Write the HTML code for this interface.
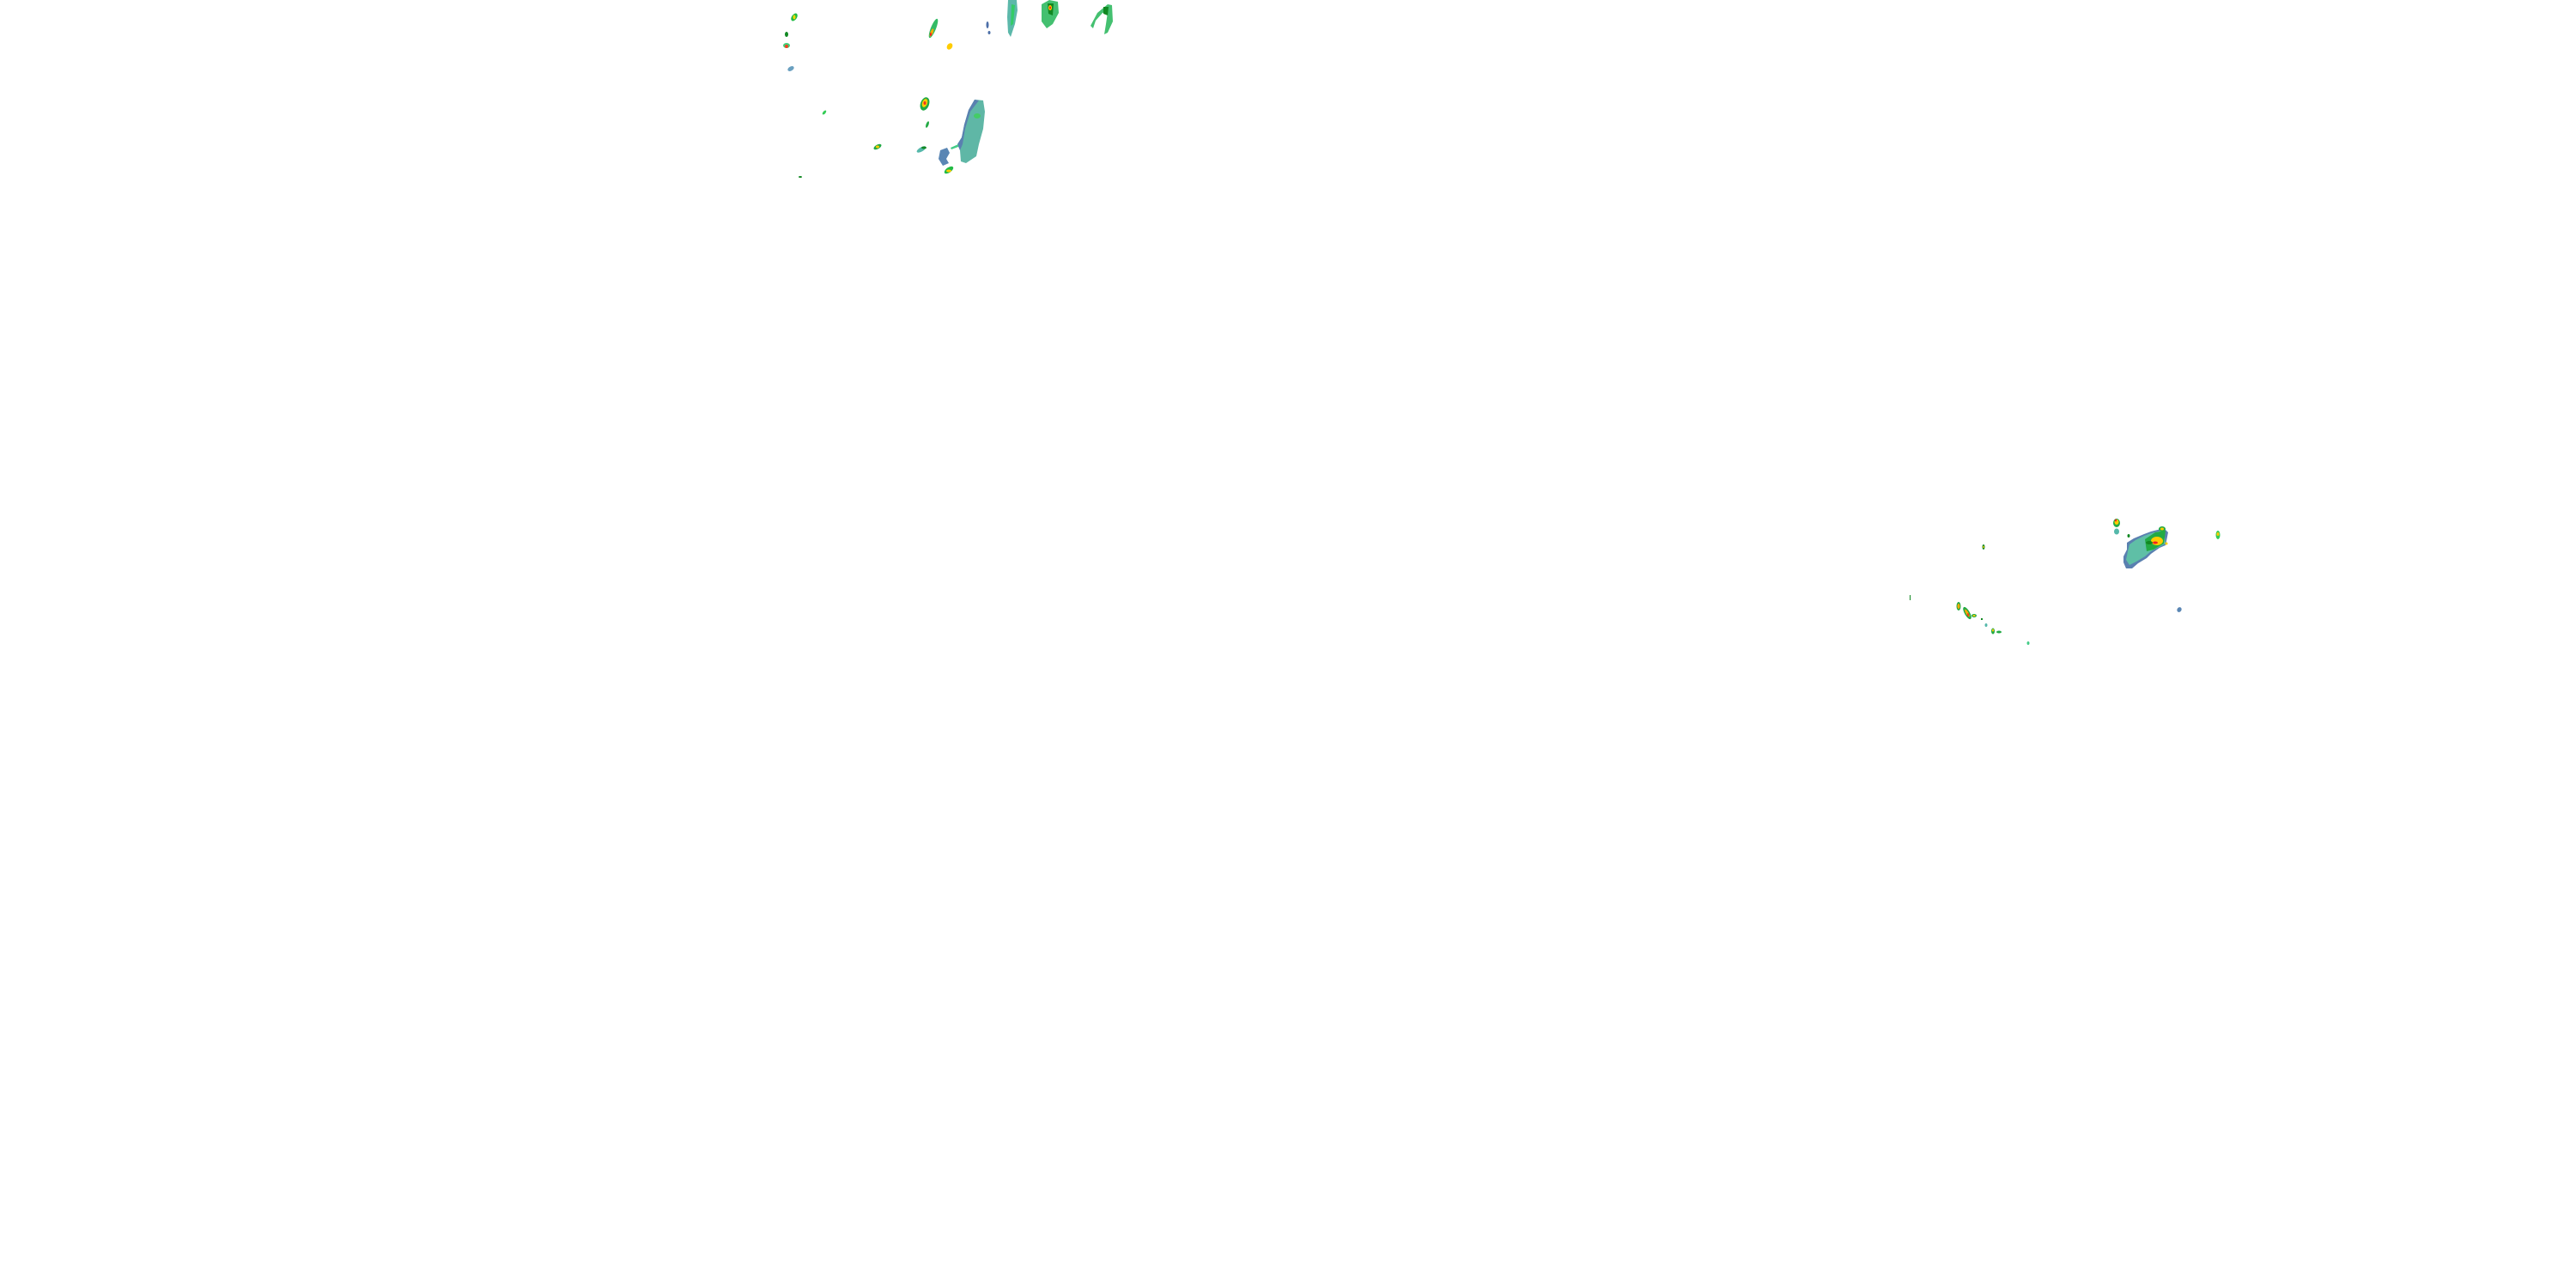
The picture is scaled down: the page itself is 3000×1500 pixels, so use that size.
<!DOCTYPE html>
<html><head><meta charset="utf-8"><style>html,body{margin:0;padding:0;background:#fff}svg{display:block}</style></head>
<body>
<svg width="3000" height="1500" viewBox="0 0 3000 1500" xmlns="http://www.w3.org/2000/svg">
<rect width="3000" height="1500" fill="#fff"/>
<!-- upper left cluster -->
<g>
<ellipse cx="925" cy="20" rx="3" ry="5" transform="rotate(35 925 20)" fill="#22bb44"/><ellipse cx="925" cy="20" rx="1.5" ry="2.5" fill="#ffd700"/>
<ellipse cx="916" cy="40" rx="2" ry="3" fill="#118822"/>
<ellipse cx="916" cy="53" rx="4" ry="3" fill="#44cc77"/><ellipse cx="916" cy="54" rx="2" ry="2" fill="#ee4422"/>
<ellipse cx="921" cy="80" rx="4" ry="2.5" transform="rotate(-30 921 80)" fill="#6aa0c0"/>
<ellipse cx="1087" cy="33" rx="3" ry="12" transform="rotate(22 1087 33)" fill="#33bb66"/><ellipse cx="1085" cy="38" rx="1.5" ry="5" transform="rotate(22 1085 38)" fill="#ffaa00"/><ellipse cx="1084" cy="40" rx="1" ry="2" fill="#ee2222"/>
<ellipse cx="1106" cy="54" rx="3" ry="4" transform="rotate(35 1106 54)" fill="#ffcc00"/>
<ellipse cx="1150" cy="29" rx="1.5" ry="4" fill="#4d6fa8"/><ellipse cx="1152" cy="38" rx="1.5" ry="2" fill="#4d6fa8"/>
<path d="M1174 0 L1184 0 L1185 12 L1182 28 L1177 43 L1174 38 L1173 20 Z" fill="#5cb8aa"/><path d="M1178 5 L1182 6 L1180 28 L1177 30 Z" fill="#33cc66"/>
<path d="M1213 5 L1222 0 L1232 2 L1233 15 L1226 28 L1219 33 L1213 25 Z" fill="#44c070"/><path d="M1220 4 L1227 4 L1226 18 L1221 16 Z" fill="#118822"/><ellipse cx="1223" cy="9" rx="2" ry="3" fill="#ffcc00"/><ellipse cx="1223" cy="9" rx="1" ry="1.5" fill="#ee2222"/>
<path d="M1270 30 L1278 15 L1290 5 L1295 6 L1296 25 L1290 38 L1286 40 L1288 28 L1290 14 L1284 15 L1276 24 L1273 33 Z" fill="#44c070"/><path d="M1285 8 L1291 8 L1290 18 L1285 16 Z" fill="#118822"/>
<!-- big stratiform -->
<path d="M1135 116 L1145 117 L1147 130 L1145 150 L1140 168 L1137 182 L1125 190 L1119 188 L1118 175 L1115 168 L1120 160 L1123 145 L1128 128 Z" fill="#5fb7a6"/>
<path d="M1135 116 L1140 117 L1130 130 L1124 150 L1121 168 L1118 175 L1115 168 L1120 160 L1123 145 L1128 128 Z" fill="#5a80b0"/>
<ellipse cx="1138" cy="135" rx="4" ry="3" fill="#44cc66"/>
<path d="M1095 175 L1103 172 L1106 178 L1102 185 L1105 190 L1098 193 L1093 185 Z" fill="#5a86b4"/>
<path d="M1107 172 L1116 168 L1116 171 L1108 174 Z" fill="#44cc88"/>
<ellipse cx="1077" cy="121" rx="5" ry="8" transform="rotate(20 1077 121)" fill="#22aa44"/><ellipse cx="1077" cy="120" rx="3" ry="5" transform="rotate(20 1077 120)" fill="#ffcc00"/><ellipse cx="1077" cy="120" rx="1.5" ry="2" fill="#ee3322"/>
<ellipse cx="1080" cy="145" rx="1.5" ry="4" transform="rotate(20 1080 145)" fill="#22aa44"/>
<ellipse cx="960" cy="131" rx="1.5" ry="3" transform="rotate(40 960 131)" fill="#33cc55"/>
<ellipse cx="1022" cy="171" rx="5" ry="2.5" transform="rotate(-30 1022 171)" fill="#22aa44"/><ellipse cx="1022" cy="171" rx="2" ry="1.5" fill="#ffcc00"/>
<ellipse cx="1073" cy="174" rx="6" ry="2.5" transform="rotate(-30 1073 174)" fill="#55b8aa"/><ellipse cx="1076" cy="172" rx="3" ry="1.5" fill="#118822"/>
<ellipse cx="1105" cy="198" rx="6" ry="3" transform="rotate(-35 1105 198)" fill="#22bb44"/><ellipse cx="1105" cy="199" rx="3" ry="1.5" fill="#ffcc00"/>
<ellipse cx="932" cy="206" rx="2" ry="1" fill="#118822"/>
</g>
<!-- right cluster -->
<g>
<ellipse cx="2465" cy="609" rx="4" ry="5" fill="#22aa44"/><ellipse cx="2465" cy="608" rx="2.5" ry="3" fill="#ffcc00"/><ellipse cx="2464" cy="606" rx="1" ry="1.5" fill="#ee2222"/>
<ellipse cx="2465" cy="619" rx="3" ry="3.5" fill="#55b8aa"/>
<ellipse cx="2479" cy="624" rx="1.5" ry="2" fill="#118822"/>
<path d="M2497 622 L2505 619 L2513 617 L2520 615 L2525 620 L2522 635 L2515 638 L2505 645 L2500 650 L2490 656 L2483 662 L2476 662 L2473 655 L2473 648 L2477 640 L2477 632 L2485 627 Z" fill="#5a80b0"/>
<path d="M2497 624 L2505 621 L2513 619 L2520 617 L2522 633 L2505 642 L2498 648 L2488 654 L2480 658 L2476 652 L2478 642 L2480 634 L2487 629 Z" fill="#5fbfa6"/>
<path d="M2498 628 L2510 620 L2522 618 L2520 633 L2508 640 L2500 642 Z" fill="#22aa44"/>
<ellipse cx="2512" cy="630" rx="7" ry="5" fill="#ffcc00"/><ellipse cx="2510" cy="632" rx="3" ry="1.5" fill="#ee2222"/>
<ellipse cx="2518" cy="616" rx="4" ry="3" fill="#22aa44"/><ellipse cx="2518" cy="616" rx="2" ry="1.5" fill="#ffcc00"/>
<ellipse cx="2523" cy="633" rx="1.5" ry="1.5" fill="#ffcc00"/>
<ellipse cx="2503" cy="632" rx="4" ry="2" fill="#118822"/>
<ellipse cx="2583" cy="623" rx="2.5" ry="5" fill="#33cc55"/><ellipse cx="2583" cy="622" rx="1.5" ry="2" fill="#ffcc00"/>
<ellipse cx="2538" cy="710" rx="2.5" ry="3" transform="rotate(30 2538 710)" fill="#5a86b4"/>
<ellipse cx="2310" cy="637" rx="1.5" ry="3" fill="#118822"/><ellipse cx="2310" cy="637" rx="0.8" ry="1.2" fill="#ffcc00"/>
<rect x="2224" y="693" width="1" height="6" fill="#118822"/>
<ellipse cx="2281" cy="706" rx="2.5" ry="5" fill="#22aa44"/><ellipse cx="2281" cy="706" rx="1.5" ry="3" fill="#ffaa00"/>
<ellipse cx="2291" cy="714" rx="3" ry="8" transform="rotate(-30 2291 714)" fill="#22aa44"/><ellipse cx="2291" cy="714" rx="1.5" ry="5" transform="rotate(-30 2291 714)" fill="#ffaa00"/><ellipse cx="2292" cy="716" rx="0.8" ry="2" fill="#ee2222"/>
<ellipse cx="2299" cy="717" rx="3" ry="2" fill="#22aa44"/><ellipse cx="2299" cy="717" rx="1.5" ry="1" fill="#ffcc00"/>
<rect x="2307" y="720" width="2" height="2" fill="#118822"/>
<ellipse cx="2313" cy="728" rx="1.5" ry="2" fill="#55b8aa"/>
<ellipse cx="2321" cy="735" rx="2" ry="3.5" fill="#22aa44"/><ellipse cx="2321" cy="734" rx="1" ry="1.5" fill="#ffcc00"/>
<ellipse cx="2328" cy="736" rx="3" ry="1.5" fill="#22aa44"/>
<ellipse cx="2362" cy="749" rx="1.5" ry="2" fill="#44cc88"/>
</g>
</svg>
</body></html>
